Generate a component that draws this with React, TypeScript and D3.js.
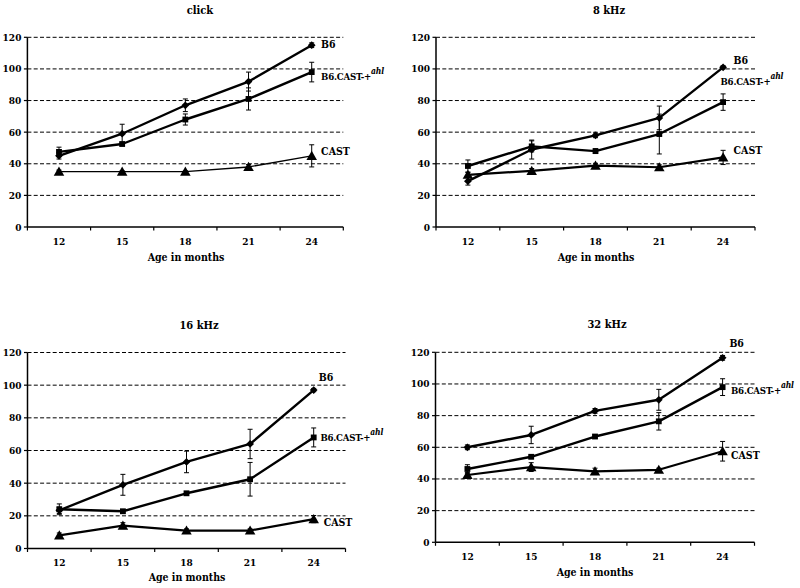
import React from "react";
import * as d3 from "d3";

const ages = ["12", "15", "18", "21", "24"];
const yTicks = [0, 20, 40, 60, 80, 100, 120];
const seriesNames = ["B6", "B6.CAST-+", "CAST"];

// click
const clickB6 = [45, 59, 77, 92, 115];
const clickB6Err = [2, 6, 4, 6, 1.5];
const clickCon = [47.5, 52.5, 68, 81, 98];
const clickConErr = [3, 1, 3.5, 7, 6.2];
const clickCast = [35, 35, 35, 38, 45];
const clickCastErr = [1, 0.5, 0.5, 1.5, 7];

// 8 kHz
const k8B6 = [29, 49, 58, 69, 101];
const k8B6Err = [2.5, 6, 1.5, 7.5, 1];
const k8Con = [38.6, 51, 48, 58.8, 79];
const k8ConErr = [3.8, 3.5, 1.5, 12.6, 5.2];
const k8Cast = [33, 35.5, 38.8, 37.8, 44];
const k8CastErr = [1.5, 1.5, 1.5, 1.5, 4.5];

// 16 kHz
const k16B6 = [23.4, 39, 53, 64, 97];
const k16B6Err = [2, 6.4, 6.6, 9, 1];
const k16Con = [24, 22.8, 33.8, 42.4, 68];
const k16ConErr = [3.3, 1, 1, 10.3, 5.8];
const k16Cast = [8, 14, 11, 11, 18];
const k16CastErr = [1.5, 1.8, 1, 1, 2.2];

// 32 kHz
const k32B6 = [60, 67.8, 83, 90, 116.5];
const k32B6Err = [1.5, 5.5, 1.5, 6.6, 1.5];
const k32Con = [46.3, 54, 66.8, 76.4, 98];
const k32ConErr = [2.7, 1, 1, 5.5, 5.3];
const k32Cast = [42.5, 47.5, 44.8, 45.8, 57.5];
const k32CastErr = [1.5, 2.8, 2, 1, 6.2];

const titles = ["click", "8 kHz", "16 kHz", "32 kHz"];

const panels = [
  {
    title: titles[0],
    data: [[clickB6, clickB6Err], [clickCon, clickConErr], [clickCast, clickCastErr]],
    x0: 27.4, x1: 343.3, yTop: 37.3, yBot: 227,
    titleX: 200, titleY: 10, tickY: 241, axisTitleX: 186, axisTitleY: 257,
    labelOff: [[9.4, -1], [9.4, 4], [9.4, -5]],
    castWidth: 1.4,
  },
  {
    title: titles[1],
    data: [[k8B6, k8B6Err], [k8Con, k8ConErr], [k8Cast, k8CastErr]],
    x0: 436, x1: 755, yTop: 37.3, yBot: 227,
    titleX: 609, titleY: 10, tickY: 241, axisTitleX: 596, axisTitleY: 257,
    labelOff: [[10.5, -7], [-2.6, -21], [10.5, -7.5]],
    castWidth: 2.2,
  },
  {
    title: titles[2],
    data: [[k16B6, k16B6Err], [k16Con, k16ConErr], [k16Cast, k16CastErr]],
    x0: 27.5, x1: 345.5, yTop: 352.5, yBot: 548.5,
    titleX: 199, titleY: 325, tickY: 562, axisTitleX: 187, axisTitleY: 577,
    labelOff: [[5, -12.6], [6.7, 0], [10, 3]],
    castWidth: 2.2,
  },
  {
    title: titles[3],
    data: [[k32B6, k32B6Err], [k32Con, k32ConErr], [k32Cast, k32CastErr]],
    x0: 435.5, x1: 754.5, yTop: 352.3, yBot: 542.3,
    titleX: 607, titleY: 324.5, tickY: 556, axisTitleX: 595, axisTitleY: 572,
    labelOff: [[6.8, -14.7], [8.4, 3], [8.4, 4]],
    castWidth: 2.2,
  },
];

const symbols = [d3.symbolSquare, d3.symbolSquare, d3.symbolTriangle];
const symbolSizes = [30, 34, 48];
const symbolRot = [45, 0, 0];
const FONT_STYLE = { fontFamily: "'DejaVu Serif Condensed', 'DejaVu Serif', serif" };

function Panel({ p }: { p: any }) {
  const x = d3.scaleBand<string>().domain(ages).range([p.x0, p.x1]);
  const cx = (a: string) => (x(a) as number) + x.bandwidth() / 2;
  const y = d3.scaleLinear().domain([0, 120]).range([p.yBot, p.yTop]);
  const line = d3
    .line<number>()
    .x((_, i) => cx(ages[i]))
    .y((v) => y(v));

  return (
    <g>
      <text x={p.titleX} y={p.titleY} textAnchor="middle" dominantBaseline="central"
        style={FONT_STYLE} fontWeight="bold" fontSize={11}>{p.title}</text>
      {yTicks.filter((t) => t > 0).map((t) => (
        <line key={"g" + t} x1={p.x0} x2={p.x1} y1={y(t)} y2={y(t)}
          stroke="#000" strokeWidth={1} strokeDasharray="4,2.3" />
      ))}
      {yTicks.map((t) => (
        <g key={"yt" + t}>
          <line x1={p.x0 - 3.5} x2={p.x0} y1={y(t)} y2={y(t)} stroke="#000" strokeWidth={1.2} />
          <text x={p.x0 - 6} y={y(t)} textAnchor="end" dominantBaseline="central"
            style={FONT_STYLE} fontWeight="bold" fontSize={10}>{t}</text>
        </g>
      ))}
      <line x1={p.x0} x2={p.x0} y1={p.yTop} y2={p.yBot} stroke="#000" strokeWidth={1.5} />
      <line x1={p.x0} x2={p.x1} y1={p.yBot} y2={p.yBot} stroke="#000" strokeWidth={1.5} />
      {[...ages.map((a) => x(a) as number), p.x1].map((v, i) => (
        <line key={"xt" + i} x1={v} x2={v} y1={p.yBot} y2={p.yBot + 3.5} stroke="#000" strokeWidth={1.2} />
      ))}
      {ages.map((a) => (
        <text key={"xl" + a} x={cx(a)} y={p.tickY} textAnchor="middle" dominantBaseline="central"
          style={FONT_STYLE} fontWeight="bold" fontSize={10}>{a}</text>
      ))}
      <text x={p.axisTitleX} y={p.axisTitleY} textAnchor="middle" dominantBaseline="central"
        style={FONT_STYLE} fontWeight="bold" fontSize={10.5}>Age in months</text>
      {p.data.map(([vals, errs]: number[][], si: number) => (
        <g key={"s" + si}>
          <path d={line(vals) as string} fill="none" stroke="#000"
            strokeWidth={si === 2 ? p.castWidth : 2.4} strokeLinejoin="round" />
          {vals.map((v, i) => {
            const px = cx(ages[i]);
            const e = errs[i];
            return (
              <g key={"e" + i}>
                <line x1={px} x2={px} y1={y(v + e)} y2={y(v - e)} stroke="#000" strokeWidth={1} />
                <line x1={px - 2.5} x2={px + 2.5} y1={y(v + e)} y2={y(v + e)} stroke="#000" strokeWidth={1} />
                <line x1={px - 2.5} x2={px + 2.5} y1={y(v - e)} y2={y(v - e)} stroke="#000" strokeWidth={1} />
                <path transform={`translate(${px},${y(v) + (si === 2 ? 1 : 0)}) rotate(${symbolRot[si]})`}
                  d={d3.symbol().type(symbols[si]).size(symbolSizes[si])() as string} fill="#000" />
              </g>
            );
          })}
          {(() => {
            const lx = cx(ages[4]) + p.labelOff[si][0];
            const ly = y(vals[4]) + p.labelOff[si][1];
            return (
              <text x={lx} y={ly} dominantBaseline="central" style={FONT_STYLE}
                fontWeight="bold" fontSize={si === 1 ? 9.6 : 10.5} letterSpacing={si === 1 ? -0.2 : 0}>
                {seriesNames[si]}
                {si === 1 ? (
                  <tspan fontStyle="italic" fontSize={8.5} dy={-5}>ahl</tspan>
                ) : null}
              </text>
            );
          })()}
        </g>
      ))}
    </g>
  );
}

export default function App() {
  return (
    <svg width={800} height={588} style={{ position: "absolute", left: 0, top: 0, background: "#fff" }}>
      <rect width={800} height={588} fill="#fff" />
      {panels.map((p, i) => (
        <Panel key={i} p={p} />
      ))}
    </svg>
  );
}
